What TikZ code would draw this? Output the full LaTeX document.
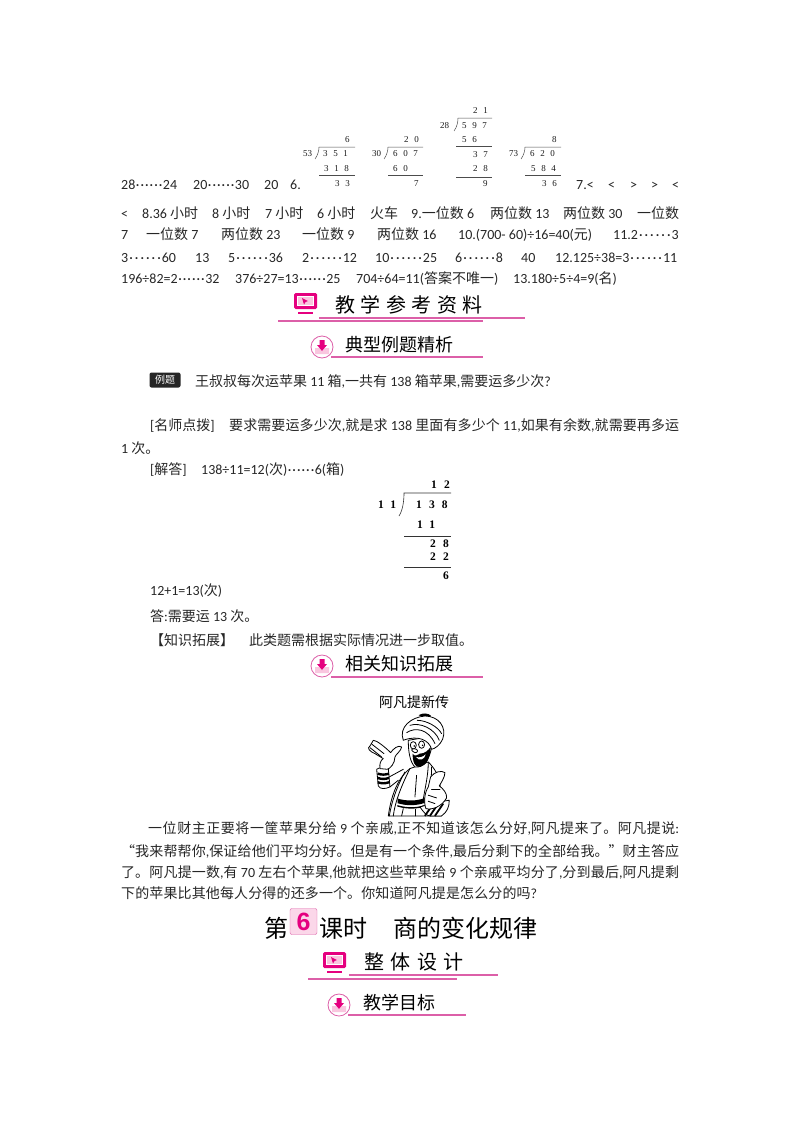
\documentclass[tikz,border=0pt]{standalone}
\usepackage{fontspec}
\setmainfont{Carlito}
\newfontfamily\cjk{Noto Sans CJK SC}
\newfontfamily\divfont[LetterSpace=62]{Liberation Serif}
\newfontfamily\divplain{Liberation Serif}
\newfontfamily\numfont{Liberation Sans}
\XeTeXlinebreaklocale "zh"
\XeTeXlinebreakskip=0pt plus 3pt
\newcommand{\zh}[1]{{\cjk #1}}
\newcommand{\dt}{\makebox[4.6pt]{·}}
\newcommand{\dw}{\makebox[5.6pt]{·}}
\newcommand{\rem}{\dt\dt\dt\dt\dt\dt}
\newcommand{\remw}{\dw\dw\dw\dw\dw\dw}
\newcommand{\jl}[2]{\parbox[b]{#1pt}{\parfillskip=0pt\tolerance=10000\spaceskip=3.2pt plus 1pt\relax #2\par}}
\definecolor{pinkd}{HTML}{E5007F}
\definecolor{pinkl}{HTML}{DC5FA8}
\definecolor{pinkf}{HTML}{F9C6DF}
\tikzset{
  txt/.style={anchor=west,inner sep=0pt,yshift=-1.5pt,text height=10pt,text depth=3pt,text=black!85,font=\fontsize{14}{17}\selectfont},
  dv/.style={anchor=west,inner sep=0pt,text=black!90,font=\fontsize{9}{10}\divfont},
  dvn/.style={anchor=west,inner sep=0pt,text=black!90,font=\fontsize{9}{10}\divplain},
  dvb/.style={anchor=west,inner sep=0pt,font=\fontsize{11.5}{13}\bfseries\divfont},
  subh/.style={anchor=west,inner sep=0pt,font=\fontsize{18}{20}\cjk},
  spaced/.style={anchor=west,inner sep=0pt,font=\fontsize{20}{22}\cjk},
  rule/.style={pinkl,line width=1.1pt},
  toon/.style={line width=0.8pt,line join=round,line cap=round},
  pics/monitor/.style={code={
    \fill[pinkd,rounded corners=1.5pt] (0,0) rectangle (23,16);
    \fill[white] (3,3) rectangle (20,13);
    \fill[pinkf] (4,4) rectangle (19,12);
    \fill[pinkd] (8,5) -- (14,8) -- (11.5,9) -- (10,11.5) -- cycle;
    \fill[pinkd] (4,19) rectangle (19,21);
  }},
  pics/downmark/.style={code={
    \draw[pinkl,fill=white,line width=0.8pt] (0,0) circle (11);
    \fill[pinkf] (-7,1) -- (-3,1) -- (0,4) -- (3,1) -- (7,1) -- (7,7) -- (-7,7) -- cycle;
    \fill[pinkd] (-2.5,-7) -- (2.5,-7) -- (2.5,-2) -- (5,-2) -- (0,4) -- (-5,-2) -- (-2.5,-2) -- cycle;
  }}
}
\begin{document}
\begin{tikzpicture}[x=1pt,y=-1pt]
\useasboundingbox (0,0) rectangle (800,1132);
% answer lines
\foreach \i/\txt in {121/{28\rem24},193/{20\rem30},264/20,290/6.,576/{7.<},608/{<},630/{>},651/{>},672/{<}}
{
	\node[txt] (a\i) at (\i,184) {\txt};
}
\foreach \i/\txt in {121/{<},142/{8.36 \zh{小时}},212/{8 \zh{小时}},265/{7 \zh{小时}},317/{6 \zh{小时}},370/{\zh{火车}},411/{9.\zh{一位数} 6},490/{\zh{两位数} 13},563/{\zh{两位数} 30},637/{\zh{一位数}}}
{
	\node[txt] (b\i) at (\i,213) {\txt};
}
\foreach \i/\txt in {121/7,146/{\zh{一位数} 7},221/{\zh{两位数} 23},302/{\zh{一位数} 9},377/{\zh{两位数} 16},458/{10.(700- 60)÷16=40(\zh{元})},613/{11.2\remw3}}
{
	\node[txt] (c\i) at (\i,234) {\txt};
}
\foreach \i/\txt in {121/{3\remw60},195/13,228/{5\remw36},302/{2\remw12},375/{10\remw25},455/{6\remw8},521/40,555/{12.125÷38=3\remw11}}
{
	\node[txt] (d\i) at (\i,257) {\txt};
}
\foreach \i/\txt in {121/{196÷82=2\rem32},235/{376÷27=13\rem25},356/{704÷64=11(\zh{答案不唯一})},513/{13.180÷5÷4=9(\zh{名})}}
{
	\node[txt] (e\i) at (\i,278) {\txt};
}
% four small divisions
\node[dvn] (k1) at (303,154) {53};
\node[dv] (k2) at (345,140) {6};
\node[dv] (k3) at (323,154) {351};
\node[dv] (k4) at (324,169) {318};
\node[dv] (k5) at (335,184) {33};
\draw[black!70,line width=0.5pt] (315,159) .. controls (318,155) and (319,150) .. (319,147) -- (355,147);
\draw[black!70,line width=0.5pt] (319,175) -- (355,175);
\node[dvn] (m1) at (372,154) {30};
\node[dv] (m2) at (404,140) {20};
\node[dv] (m3) at (393,154) {607};
\node[dv] (m4) at (393,169) {60};
\node[dv] (m5) at (414,184) {7};
\draw[black!70,line width=0.5pt] (384,159) .. controls (387,155) and (388,150) .. (388,147) -- (423,147);
\draw[black!70,line width=0.5pt] (388,175) -- (423,175);
\node[dvn] (n1) at (440,126) {28};
\node[dv] (n2) at (473,111) {21};
\node[dv] (n3) at (462,126) {597};
\node[dv] (n4) at (462,140) {56};
\node[dv] (n5) at (473,155) {37};
\node[dv] (n6) at (473,169) {28};
\node[dv] (n7) at (483,184) {9};
\draw[black!70,line width=0.5pt] (454,131) .. controls (457,127) and (458,122) .. (458,118) -- (492,118);
\draw[black!70,line width=0.5pt] (456,146) -- (492,146);
\draw[black!70,line width=0.5pt] (456,177) -- (492,177);
\node[dvn] (p1) at (509,154) {73};
\node[dv] (p2) at (552,140) {8};
\node[dv] (p3) at (530,154) {620};
\node[dv] (p4) at (531,169) {584};
\node[dv] (p5) at (542,184) {36};
\draw[black!70,line width=0.5pt] (521,159) .. controls (524,155) and (525,150) .. (525,147) -- (561,147);
\draw[black!70,line width=0.5pt] (525,175) -- (561,175);
% head 1
\pic (h1) at (294,293) {monitor};
\node[spaced] (h1t) at (335,305) {教\kern5.5pt 学\kern5.5pt 参\kern5.5pt 考\kern5.5pt 资\kern5.5pt 料};
\draw[rule] (319,318) -- (525,318);
\draw[rule] (278,321) -- (483,321);
% head 2
\pic (h2) at (322,347) {downmark};
\node[subh] (h2t) at (345,345) {典型例题精析};
\draw[rule] (331,357) -- (483,357);
% example box
\node[fill=black!85,rounded corners=2pt,text=white,inner sep=0pt,minimum width=31pt,minimum height=15pt,font=\fontsize{10}{11}\cjk] (ex) at (165,380) {例题};
\node[txt] (q) at (195,381) {\zh{王叔叔每次运苹果} 11 \zh{箱},\zh{一共有} 138 \zh{箱苹果},\zh{需要运多少次}?};
\node[txt] (q1) at (150,425) {[\zh{名师点拨}]};
\node[txt] (q2) at (229,425) {\jl{450}{\zh{要求需要运多少次},\zh{就是求} 138 \zh{里面有多少个} 11,\zh{如果有余数},\zh{就需要再多运}}};
\node[txt] (q3) at (121,448) {1 \zh{次。}};
\node[txt] (q4) at (150,469) {[\zh{解答}]};
\node[txt] (q5) at (201,469) {138÷11=12(\zh{次})\rem6(\zh{箱})};
% big division
\node[dvb] (r1) at (431,485) {12};
\node[dvb] (r2) at (378,505) {11};
\node[dvb] (r3) at (416,505) {138};
\node[dvb] (r4) at (417,525) {11};
\node[dvb] (r5) at (430,544) {28};
\node[dvb] (r6) at (430,557) {22};
\node[dvb] (r7) at (443,576) {6};
\draw[black!80,line width=0.6pt] (399,516) .. controls (403,510) and (404,500) .. (404,493) -- (451,493);
\draw[black!80,line width=0.6pt] (404,536) -- (451,536);
\draw[black!80,line width=0.6pt] (404,567) -- (451,567);
\node[txt] (s1) at (150,590) {12+1=13(\zh{次})};
\node[txt] (s2) at (150,616) {\zh{答}:\zh{需要运} 13 \zh{次。}};
\node[txt] (s3) at (150,640) {\zh{【知识拓展】}};
\node[txt] (s4) at (249,640) {\zh{此类题需根据实际情况进一步取值。}};
% head 3
\pic (h3) at (322,666) {downmark};
\node[subh] (h3t) at (345,664) {相关知识拓展};
\draw[rule] (331,677) -- (483,677);
\node[inner sep=0pt,font=\fontsize{14}{16}\cjk] (story) at (414,702) {阿凡提新传};
% figure
\begin{scope}[shift={(360,712)},x=0.333pt,y=-0.333pt]
% robe
\draw[toon,fill=white] (85,312) .. controls (92,260) and (110,200) .. (150,170) -- (205,150) .. controls (225,170) and (235,190) .. (240,210) -- (245,312) -- cycle;
\draw[toon] (150,170) .. controls (125,220) and (105,270) .. (100,312);
\draw[toon] (135,180) .. controls (110,225) and (95,270) .. (88,312);
\draw[toon] (205,152) .. controls (205,190) and (195,230) .. (190,262);
\draw[toon] (215,165) .. controls (215,200) and (210,240) .. (205,280);
\draw[toon] (170,190) -- (165,255);
% sash
\fill[black] (113,260) .. controls (140,268) and (170,268) .. (195,258) -- (197,272) .. controls (170,282) and (140,282) .. (113,274) -- cycle;
\draw[toon,line width=1.4pt] (113,282) .. controls (140,290) and (170,290) .. (192,282);
\draw[toon] (125,312) -- (130,290);
\draw[toon] (165,312) -- (165,292);
% striped sleeve left
\draw[toon,fill=white] (50,172) .. controls (60,165) and (75,165) .. (85,170) -- (90,225) .. controls (75,232) and (60,232) .. (55,222) -- cycle;
\foreach \i in {185,198,211}
{
	\draw[line width=2.4pt] (53,\i) .. controls (65,\i+4) and (75,\i+4) .. (87,\i);
}
\draw[toon] (88,195) -- (130,172);
\draw[toon] (90,225) -- (115,205);
% left hand
\draw[toon,fill=white] (60,170) .. controls (58,155) and (62,145) .. (70,140) -- (45,125) .. controls (28,118) and (20,108) .. (30,102) -- (40,85) .. controls (50,85) and (75,105) .. (92,122) .. controls (100,110) and (115,98) .. (125,105) .. controls (125,115) and (105,130) .. (105,135) .. controls (105,155) and (90,170) .. (82,172) -- cycle;
\draw[toon] (36,97) -- (72,125);
\draw[toon] (30,107) -- (65,135);
% face
\draw[toon,fill=white] (145,85) .. controls (145,120) and (150,150) .. (165,165) .. controls (190,170) and (210,140) .. (215,105) -- (205,75) -- cycle;
% beard
\fill[black] (158,125) .. controls (165,135) and (170,130) .. (180,125) .. controls (195,125) and (205,115) .. (212,105) .. controls (212,135) and (200,162) .. (180,165) .. controls (165,168) and (158,150) .. (158,125) -- cycle;
\fill[white] (168,135) .. controls (178,138) and (190,135) .. (197,127) .. controls (195,142) and (178,150) .. (168,135) -- cycle;
% eyes and nose
\draw[toon,fill=white] (160,100) ellipse (9 and 11);
\draw[toon,fill=white] (185,98) ellipse (9 and 11);
\fill (163,102) circle (2.5);
\fill (188,100) circle (2.5);
\draw[toon,fill=white] (158,118) .. controls (150,112) and (160,108) .. (170,112) .. controls (178,118) and (168,128) .. (158,118) -- cycle;
% turban
\draw[toon,fill=white] (130,85) .. controls (115,45) and (155,15) .. (195,12) .. controls (235,12) and (262,45) .. (248,82) .. controls (240,100) and (225,110) .. (215,112) .. controls (208,85) and (175,68) .. (130,85) -- cycle;
\draw[toon] (140,62) .. controls (165,45) and (205,50) .. (225,95);
\draw[toon] (150,40) .. controls (180,30) and (225,50) .. (238,85);
\draw[toon] (172,25) .. controls (200,25) and (235,45) .. (245,65);
\draw[toon,fill=black] (178,10) .. controls (190,3) and (205,5) .. (212,12) .. controls (200,10) and (190,10) .. (178,10) -- cycle;
% right sleeve and hand
\draw[toon,fill=white] (180,285) .. controls (190,300) and (200,312) .. (210,312) -- (245,312) .. controls (262,300) and (268,285) .. (268,265) -- (235,270) -- cycle;
\foreach \i in {195,210,225}
{
	\draw[line width=1.8pt] (\i,312) -- (\i+25,275);
}
\draw[toon,fill=white] (212,195) .. controls (225,178) and (245,175) .. (255,182) .. controls (255,195) and (245,210) .. (238,222) .. controls (250,230) and (262,245) .. (260,258) .. controls (245,285) and (215,295) .. (198,290) .. controls (192,275) and (192,245) .. (205,225) -- cycle;
\draw[toon] (215,232) -- (240,232);
\draw[toon] (205,250) -- (230,258);
\draw[toon] (205,268) -- (225,275);
\end{scope}
% story text
\node[txt] (t1) at (148,828) {\jl{531}{\zh{一位财主正要将一筐苹果分给} 9 \zh{个亲戚},\zh{正不知道该怎么分好},\zh{阿凡提来了。阿凡提说}:}};
\node[txt] (t2) at (121,851) {\jl{558}{\zh{“我来帮帮你},\zh{保证给他们平均分好。但是有一个条件},\zh{最后分剩下的全部给我。”财主答应}}};
\node[txt] (t3) at (121,872) {\jl{558}{\zh{了。阿凡提一数},\zh{有} 70 \zh{左右个苹果},\zh{他就把这些苹果给} 9 \zh{个亲戚平均分了},\zh{分到最后},\zh{阿凡提剩}}};
\node[txt] (t4) at (121,893) {\jl{416}{\zh{下的苹果比其他每人分得的还多一个。你知道阿凡提是怎么分的吗}?}};
% lesson title
\node[anchor=west,inner sep=0pt,font=\fontsize{24}{26}\cjk] (les1) at (264,928) {第};
\node[draw=pinkl,fill=pinkf!70,rounded corners=2pt,minimum width=27pt,minimum height=26pt,inner sep=0pt,text=pinkd,font=\fontsize{25}{26}\bfseries\numfont] (les2) at (303.5,921.5) {6};
\node[anchor=west,inner sep=0pt,font=\fontsize{24}{26}\cjk] (les3) at (319,928) {课时};
\node[anchor=west,inner sep=0pt,font=\fontsize{24}{26}\cjk] (les4) at (393,928) {商的变化规律};
% head 4
\pic (h4) at (323,952) {monitor};
\node[spaced] (h4t) at (364,962) {整\kern6.5pt 体\kern6.5pt 设\kern6.5pt 计};
\draw[rule] (349,975) -- (498,975);
\draw[rule] (308,979) -- (457,979);
% head 5
\pic (h5) at (339,1005) {downmark};
\node[subh] (h5t) at (363,1003) {教学目标};
\draw[rule] (348,1015) -- (466,1015);
\end{tikzpicture}
\end{document}
